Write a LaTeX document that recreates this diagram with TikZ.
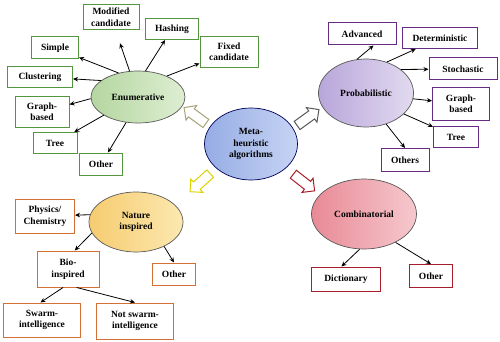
\documentclass[tikz,border=0pt]{standalone}
\usepackage{fontspec}
\setmainfont{Liberation Serif}
\usetikzlibrary{shapes.geometric,shapes.arrows,arrows.meta}

\definecolor{enumgreen}{RGB}{84,150,62}
\definecolor{probpurple}{RGB}{102,44,132}
\definecolor{natorange}{RGB}{212,112,52}
\definecolor{combred}{RGB}{168,30,42}
\definecolor{metadark}{RGB}{150,172,228}
\definecolor{metalight}{RGB}{198,212,244}
\definecolor{enumdark}{RGB}{180,214,160}
\definecolor{enumlight}{RGB}{222,238,210}
\definecolor{probdark}{RGB}{184,166,218}
\definecolor{problight}{RGB}{226,218,240}
\definecolor{natdark}{RGB}{246,204,112}
\definecolor{natlight}{RGB}{252,232,176}
\definecolor{combdark}{RGB}{232,138,150}
\definecolor{comblight}{RGB}{246,200,206}

\begin{document}
\begin{tikzpicture}[x=1pt, y=-1pt, font=\fontsize{9.5}{11.5}\selectfont\bfseries,
  algo/.style={ellipse, draw=black!65, line width=0.7pt, inner sep=0pt, align=center},
  leaf/.style={rectangle, draw, line width=1pt, fill=white, inner sep=0pt, align=center},
  conn/.style={-{Stealth[length=5pt, width=4.5pt]}, line width=0.8pt},
  hollow/.style={single arrow, draw, line width=1pt, fill=white, inner sep=4.5pt,
    minimum height=27pt, single arrow head extend=4pt}
]
\useasboundingbox (0,0) rectangle (500,342);

% Main categories (shaded ellipses)
\node[algo, minimum width=93pt, minimum height=72pt, draw=blue!35!black,
  left color=metadark, right color=metalight] (meta) at (251,144) {Meta-\\heuristic\\algorithms};
\node[algo, minimum width=94pt, minimum height=52pt,
  left color=enumdark, right color=enumlight] (enum) at (138,97) {Enumerative};
\node[algo, minimum width=95pt, minimum height=68pt,
  left color=probdark, right color=problight] (prob) at (366,93) {Probabilistic};
\node[algo, minimum width=94pt, minimum height=60pt,
  left color=natdark, right color=natlight] (nature) at (136,222) {Nature\\inspired};
\node[algo, minimum width=105pt, minimum height=70pt,
  left color=combdark, right color=comblight] (comb) at (364,214) {Combinatorial};

% Hollow arrows from the centre
\node[hollow, draw=olive!35!gray!80, rotate=144] (toenum) at (197,117) {};
\node[hollow, draw=black!65, rotate=36] (toprob) at (306,119) {};
\node[hollow, draw=yellow!70!olive, rotate=222] (tonature) at (202,181) {};
\node[hollow, draw=combred, rotate=-38] (tocomb) at (302,181) {};

% Enumerative leaves
\node[leaf, draw=enumgreen, minimum width=56pt, minimum height=25pt] (modified) at (111,17) {Modified\\candidate};
\node[leaf, draw=enumgreen, minimum width=53pt, minimum height=21pt] (hashing) at (172,29) {Hashing};
\node[leaf, draw=enumgreen, minimum width=47pt, minimum height=22pt] (simple) at (55,48) {Simple};
\node[leaf, draw=enumgreen, minimum width=58pt, minimum height=31pt] (fixed) at (229,52) {Fixed\\candidate};
\node[leaf, draw=enumgreen, minimum width=65pt, minimum height=21pt] (clustering) at (40,77) {Clustering};
\node[leaf, draw=enumgreen, minimum width=54pt, minimum height=31pt] (enumgraph) at (42,112) {Graph-\\based};
\node[leaf, draw=enumgreen, minimum width=44pt, minimum height=21pt] (enumtree) at (55,143) {Tree};
\node[leaf, draw=enumgreen, minimum width=43pt, minimum height=22pt] (enumother) at (101,164) {Other};

\draw[conn] (enum.129) -- (simple);
\draw[conn, shorten >=14pt] (enum.108) -- (modified);
\draw[conn] (enum.74) -- (hashing);
\draw[conn] (enum.36) -- (fixed);
\draw[conn] (enum.156) -- (clustering);
\draw[conn] (enum.182) -- (enumgraph);
\draw[conn] (enum.208) -- (enumtree);
\draw[conn] (enum.245) -- (enumother);

% Probabilistic leaves
\node[leaf, draw=probpurple, minimum width=68pt, minimum height=22pt] (advanced) at (362,34) {Advanced};
\node[leaf, draw=probpurple, minimum width=75pt, minimum height=21pt] (determ) at (440,38) {Deterministic};
\node[leaf, draw=probpurple, minimum width=68pt, minimum height=22pt] (stoch) at (463,69) {Stochastic};
\node[leaf, draw=probpurple, minimum width=57pt, minimum height=32pt] (probgraph) at (461,104) {Graph-\\based};
\node[leaf, draw=probpurple, minimum width=45pt, minimum height=21pt] (probtree) at (456,137) {Tree};
\node[leaf, draw=probpurple, minimum width=48pt, minimum height=23pt] (probothers) at (405,160) {Others};

\draw[conn] (prob.105) -- (advanced.-45);
\draw[conn] (prob.56) -- (determ);
\draw[conn] (prob.34) -- (stoch);
\draw[conn] (prob.-7) -- (probgraph);
\draw[conn] (prob.-29) -- (probtree);
\draw[conn] (prob.-57) -- (probothers.north);

% Nature inspired leaves
\node[leaf, draw=natorange, minimum width=59pt, minimum height=34pt] (physics) at (45,216) {Physics/\\Chemistry};
\node[leaf, draw=natorange, minimum width=62pt, minimum height=36pt] (bio) at (68,269) {Bio-\\inspired};
\node[leaf, draw=natorange, minimum width=43pt, minimum height=22pt] (natother) at (174,274) {Other};
\node[leaf, draw=natorange, minimum width=77pt, minimum height=34pt] (swarm) at (42,320) {Swarm-\\intelligence};
\node[leaf, draw=natorange, minimum width=77pt, minimum height=36pt] (notswarm) at (135,321) {Not swarm-\\intelligence};

\draw[conn] (nature.171) -- (physics);
\draw[conn] (nature.194) -- (bio.70);
\draw[conn] (nature.-41) -- (natother.north);
\draw[conn] (bio.255) -- (swarm.95);
\draw[conn] (bio.-65) -- (notswarm.north);

% Combinatorial leaves
\node[leaf, draw=combred, minimum width=69pt, minimum height=24pt] (dict) at (346,279) {Dictionary};
\node[leaf, draw=combred, minimum width=43pt, minimum height=23pt] (combother) at (431,276) {Other};

\draw[conn] (comb.263) -- (dict.110);
\draw[conn] (comb.-42) -- (combother.north);

\end{tikzpicture}
\end{document}
